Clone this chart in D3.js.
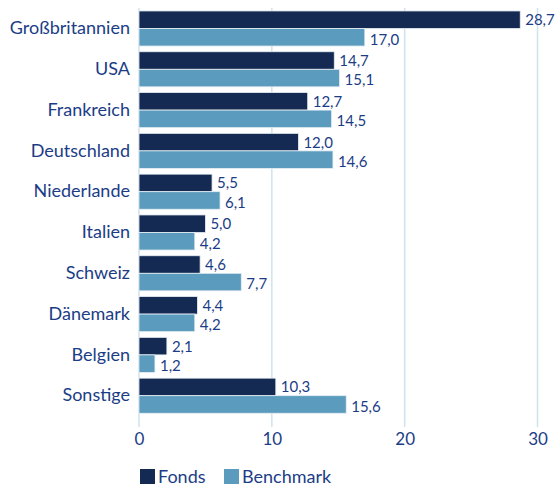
<!DOCTYPE html>
<html>
<head>
<meta charset="utf-8">
<script src="https://cdn.jsdelivr.net/npm/d3@7"></script>
<style>
  body { margin: 0; background: #fff; }
  svg { display: block; font-family: Lato, "Open Sans", sans-serif; }
</style>
</head>
<body>
<div id="chart"></div>
<script>
const categories = ["Großbritannien", "USA", "Frankreich", "Deutschland", "Niederlande", "Italien", "Schweiz", "Dänemark", "Belgien", "Sonstige"];
const fonds = [28.7, 14.7, 12.7, 12.0, 5.5, 5.0, 4.6, 4.4, 2.1, 10.3];
const benchmark = [17.0, 15.1, 14.5, 14.6, 6.1, 4.2, 7.7, 4.2, 1.2, 15.6];
const seriesNames = ["Fonds", "Benchmark"];
const xTicks = [0, 10, 20, 30];

const config = {
    "text-color": "#1b3d86",
    "grid-color": "#cfe3ee",
    "colors": ["#142a52", "#5b9bbd"]
};

const width = 556, height = 490;
const svg = d3.select("#chart").append("svg")
    .attr("width", width)
    .attr("height", height);

const xScale = d3.scaleLinear().domain([0, 30]).range([139, 537.5]);
const yScale = d3.scaleBand().domain(categories).range([8.1, 416.1])
    .paddingInner(0.14).paddingOuter(0.07);
const ySub = d3.scaleBand().domain(seriesNames).range([0, yScale.bandwidth()]);
const color = d3.scaleOrdinal().domain(seriesNames).range(config.colors);

// grid
svg.append("g")
    .selectAll("line")
    .data(xTicks)
    .enter()
    .append("line")
    .attr("x1", d => xScale(d)).attr("x2", d => xScale(d))
    .attr("y1", 8).attr("y2", 427)
    .attr("stroke", config["grid-color"])
    .attr("stroke-width", 1.5);

// x axis labels
const axisX = d3.axisBottom(xScale).tickValues(xTicks).tickSize(0).tickPadding(0);
const gx = svg.append("g")
    .attr("transform", "translate(0, 433)")
    .call(axisX);
gx.select(".domain").remove();
gx.selectAll("text")
    .attr("fill", config["text-color"])
    .style("font-size", "17px")
    .style("font-family", "Lato, 'Open Sans', sans-serif")
    .attr("dy", "0.71em");

// category labels
const axisY = d3.axisLeft(yScale).tickSize(0).tickPadding(0);
const gy = svg.append("g")
    .attr("transform", "translate(130, 0)")
    .call(axisY);
gy.select(".domain").remove();
gy.selectAll("text")
    .attr("fill", config["text-color"])
    .style("font-size", "18px")
    .style("font-family", "Lato, 'Open Sans', sans-serif");

// bars
const rows = categories.map((c, i) => ({cat: c, values: [
    {name: "Fonds", value: fonds[i]},
    {name: "Benchmark", value: benchmark[i]}
]}));

const groups = svg.append("g")
    .selectAll("g")
    .data(rows)
    .enter()
    .append("g")
    .attr("transform", d => `translate(0, ${yScale(d.cat)})`);

groups.selectAll("rect")
    .data(d => d.values)
    .enter()
    .append("rect")
    .attr("x", xScale(0))
    .attr("y", d => ySub(d.name))
    .attr("width", d => xScale(d.value) - xScale(0))
    .attr("height", ySub.bandwidth())
    .attr("fill", d => color(d.name))
    .attr("stroke", "#e6eef4")
    .attr("stroke-width", 0.8);

groups.selectAll("text")
    .data(d => d.values)
    .enter()
    .append("text")
    .attr("x", d => xScale(d.value) + 5)
    .attr("y", d => ySub(d.name) + ySub.bandwidth() / 2 + (d.name === "Benchmark" ? 2 : 0))
    .attr("dy", "0.36em")
    .attr("fill", config["text-color"])
    .style("font-size", "15px")
    .text(d => d3.format(".1f")(d.value).replace(".", ","));

// legend
const legend = svg.append("g").attr("transform", "translate(140, 469)");
const legendX = [0, 84];
const items = legend.selectAll("g")
    .data(seriesNames)
    .enter()
    .append("g")
    .attr("transform", (d, i) => `translate(${legendX[i]}, 0)`);
items.append("rect")
    .attr("width", 15).attr("height", 15)
    .attr("fill", d => color(d));
items.append("text")
    .attr("x", 18).attr("y", 8)
    .attr("dy", "0.36em")
    .attr("fill", config["text-color"])
    .style("font-size", "18px")
    .text(d => d);
</script>
</body>
</html>
